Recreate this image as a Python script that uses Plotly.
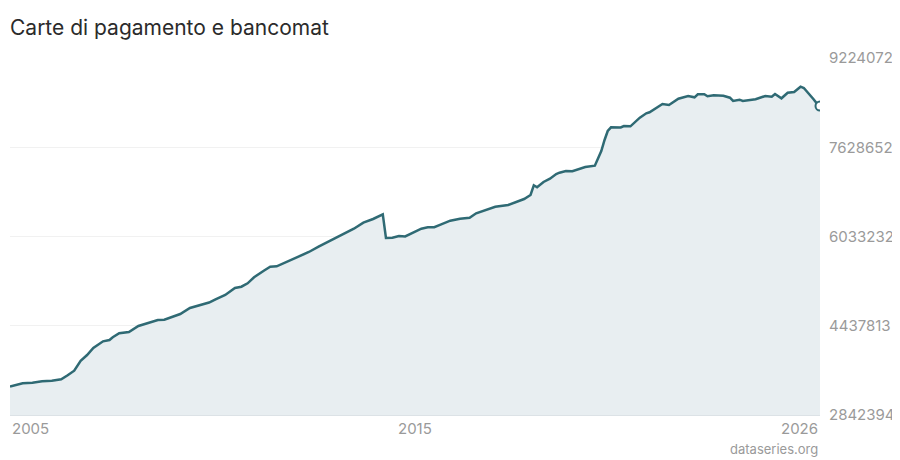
import plotly.graph_objects as go

title = "Carte di pagamento e bancomat"
source = "dataseries.org"

dates = ["2005-01","2005-05","2005-08","2005-11","2006-02","2006-05","2006-07","2006-09","2006-11","2007-01",
         "2007-03","2007-06","2007-08","2007-09","2007-11","2008-02","2008-05","2008-08","2008-11","2009-01",
         "2009-03","2009-06","2009-09","2009-12","2010-03","2010-05","2010-07","2010-08","2010-11","2011-01",
         "2011-03","2011-05","2011-08","2011-10","2011-12","2012-02","2012-05","2012-08","2012-10","2013-01",
         "2013-06","2013-09","2013-12","2014-03","2014-06","2014-09","2014-10","2014-12","2015-02","2015-04",
         "2015-06","2015-09","2015-11","2016-01","2016-03","2016-06","2016-09","2016-12","2017-02","2017-05",
         "2017-08","2017-12","2018-02","2018-05","2018-07","2018-08","2018-09","2018-11","2019-01","2019-03",
         "2019-04","2019-06","2019-08","2019-10","2019-12","2020-03","2020-05","2020-06","2020-07","2020-08",
         "2020-11","2020-12","2021-02","2021-05","2021-07","2021-08","2021-10","2021-12","2022-02","2022-05",
         "2022-08","2022-10","2022-11","2023-01","2023-02","2023-04","2023-07","2023-09","2023-10","2023-12",
         "2024-01","2024-05","2024-08","2024-10","2024-11","2025-01","2025-03","2025-05","2025-07","2025-08",
         "2025-11","2025-12","2026-01"]

values = [3352000, 3409000, 3419800, 3444800, 3455500, 3480600, 3552100, 3634300, 3813100, 3914900,
          4040100, 4159900, 4183100, 4231400, 4302900, 4326100, 4433400, 4492300, 4540600, 4546000,
          4588900, 4647900, 4755100, 4808800, 4853400, 4910600, 4957100, 4987500, 5112600, 5135900,
          5196700, 5303900, 5421900, 5493400, 5500600, 5554200, 5625700, 5715100, 5756200, 5850900,
          6001100, 6090500, 6172700, 6279900, 6346100, 6430100, 6006400, 6011800, 6042200, 6033300,
          6090500, 6172700, 6197700, 6200000, 6244200, 6315700, 6351500, 6369300, 6448000, 6512300,
          6566000, 6596400, 6644600, 6703600, 6775100, 6948500, 6912800, 7007500, 7066500, 7150500,
          7173700, 7204100, 7198800, 7234500, 7275600, 7300000, 7561700, 7758300, 7919200, 7985300,
          7981700, 8008600, 8003200, 8156900, 8235600, 8253500, 8325000, 8401800, 8384000, 8496600,
          8544800, 8521600, 8575200, 8575200, 8539500, 8557400, 8550200, 8514400, 8455500, 8478700,
          8455500, 8485800, 8544800, 8532300, 8580600, 8503700, 8603800, 8616300, 8711100, 8687800,
          8485800, 8414300, 8366100]

y_ticks = [2842394, 4437813, 6033232, 7628652, 9224072]
x_labels = ["2005", "2015", "2026"]

assert len(dates) == len(values)

line_color = "#2f6a74"
fill_color = "#e8eef1"
grey = "#9a9a9a"
font_family = "Inter, Roboto, 'Noto Sans', sans-serif"

# the page body has an 8px margin, so the figure is sized to fit the 900x460 window
W, H = 892, 452
PLOT_H = 357

fig = go.Figure()
fig.add_trace(go.Scatter(
    x=dates, y=values, mode="lines",
    line=dict(color=line_color, width=2.5),
    fill="tozeroy", fillcolor=fill_color,
    hoverinfo="skip", showlegend=False,
))
fig.add_trace(go.Scatter(
    x=[dates[-1]], y=[values[-1]], mode="markers",
    marker=dict(size=9, color="white", line=dict(color=line_color, width=2)),
    hoverinfo="skip", showlegend=False, cliponaxis=True,
))

fig.update_layout(
    width=W, height=H,
    margin=dict(l=2, r=80, t=50, b=45, pad=0),
    paper_bgcolor="white", plot_bgcolor="white",
    font=dict(family=font_family, color=grey),
    title=dict(text=title, x=2/W, xanchor="left", xref="container",
               y=1 - 20/H, yanchor="middle", yref="container",
               font=dict(family=font_family, size=21, color="#2b2b2b")),
    xaxis=dict(type="date", range=[dates[0], dates[-1]], showticklabels=False,
               showgrid=False, zeroline=False, showline=True, linecolor="#dce2e6",
               linewidth=1, ticks=""),
    yaxis=dict(range=[y_ticks[0], y_ticks[-1]], side="right", tickvals=y_ticks,
               ticktext=[str(v) for v in y_ticks], showgrid=True, gridcolor="#f1f1f1",
               gridwidth=1, zeroline=False, showline=False, ticks="",
               ticklabelstandoff=8,
               tickfont=dict(family=font_family, size=15, color=grey)),
)

for lbl, xp, anchor in zip(x_labels, [0, 0.5, 1], ["left", "center", "right"]):
    fig.add_annotation(text=lbl, x=xp, xref="paper", xanchor=anchor,
                       y=-13/PLOT_H, yref="paper", yanchor="middle", showarrow=False,
                       font=dict(family=font_family, size=15, color=grey))

fig.add_annotation(text=source, x=1, xref="paper", xanchor="right",
                   y=-34/PLOT_H, yref="paper", yanchor="middle", showarrow=False,
                   font=dict(family=font_family, size=13, color=grey))

fig.write_html("out.html")
